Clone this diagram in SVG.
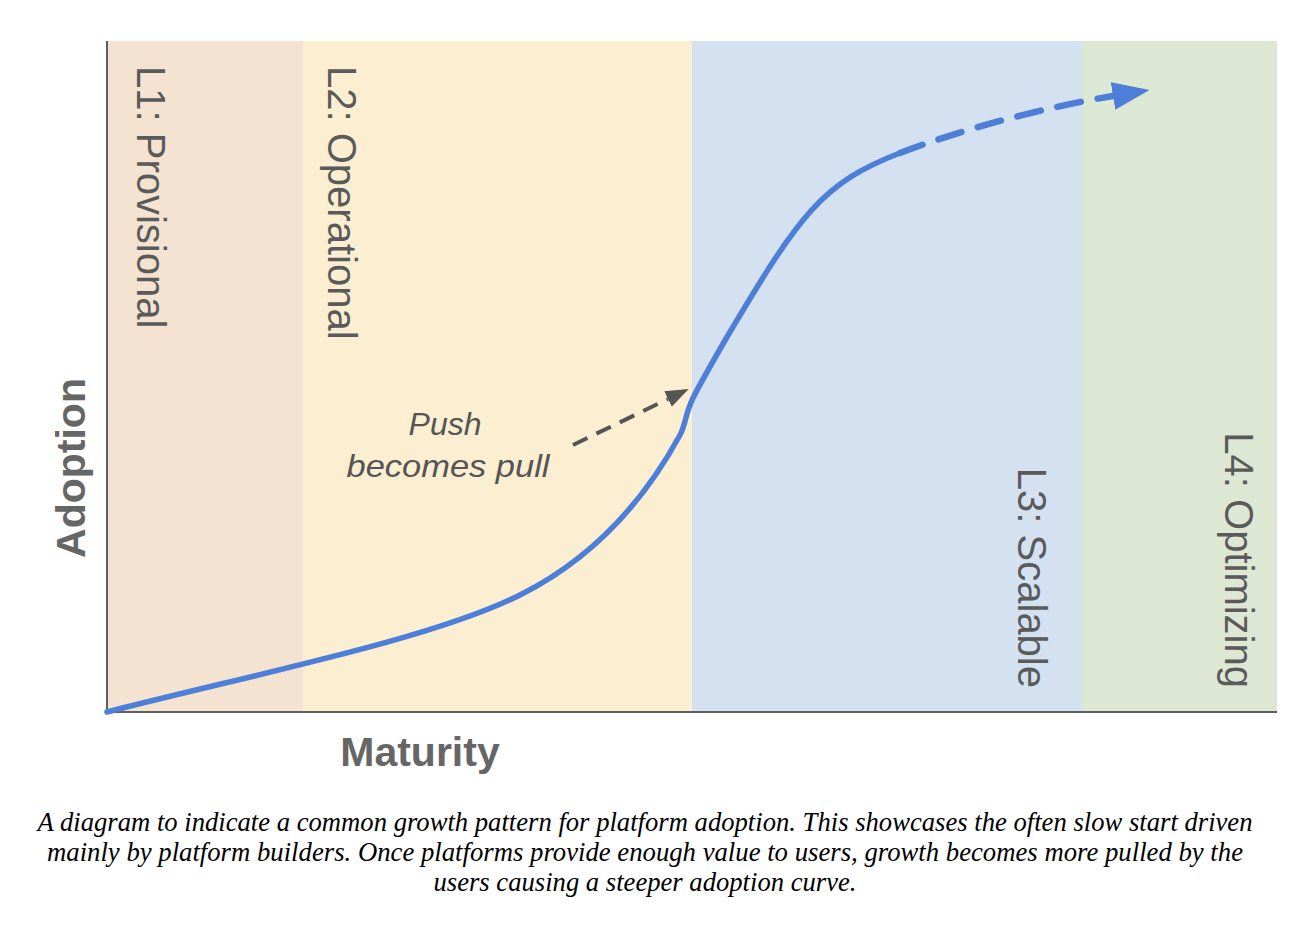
<svg xmlns="http://www.w3.org/2000/svg" width="1310" height="934" viewBox="0 0 1310 934">
  <style>
    .band-label { font-family: "Liberation Sans", Arial, sans-serif; font-size: 40px; fill: #5a5a5a; }
    .axis-label { font-family: "Liberation Sans", Arial, sans-serif; font-size: 41px; font-weight: bold; fill: #666666; }
    .note { font-family: "Liberation Sans", Arial, sans-serif; font-size: 32px; font-style: italic; fill: #555555; }
    .caption { font-family: "Liberation Serif", "Times New Roman", serif; font-size: 26.5px; font-style: italic; fill: #000000; }
    .axis { stroke: #5e5e5e; stroke-width: 2; fill: none; }
    .curve { stroke: #4d7fd8; fill: none; stroke-linecap: round; }
  </style>
  <defs>
    <marker id="blueHead" markerUnits="userSpaceOnUse" markerWidth="40" markerHeight="30" refX="0" refY="14" orient="auto">
      <path d="M0,0 L37,14 L0,28 Z" fill="#4d7fd8"/>
    </marker>
    <marker id="greyHead" markerUnits="userSpaceOnUse" markerWidth="26" markerHeight="20" refX="0" refY="8.5" orient="auto">
      <path d="M0,0 L23,8.5 L0,17 Z" fill="#555555"/>
    </marker>
  </defs>
  <rect x="0" y="0" width="1310" height="934" fill="#ffffff"/>

  <g id="band-L1">
    <rect x="107" y="41" width="196" height="671" fill="#f4e3d0"/>
    <text class="band-label" transform="translate(137,66) rotate(90)">L1: Provisional</text>
  </g>
  <g id="band-L2">
    <rect x="303" y="41" width="389" height="671" fill="#fcefd1"/>
    <text class="band-label" transform="translate(328,66) rotate(90)">L2: Operational</text>
  </g>
  <g id="band-L3">
    <rect x="692" y="41" width="390" height="671" fill="#d4e1f1"/>
    <text class="band-label" text-anchor="end" transform="translate(1018,688) rotate(90)">L3: Scalable</text>
  </g>
  <g id="band-L4">
    <rect x="1082" y="41" width="195" height="671" fill="#dde8d4"/>
    <text class="band-label" text-anchor="end" transform="translate(1225,688) rotate(90)">L4: Optimizing</text>
  </g>

  <g id="axes">
    <line class="axis" x1="107" y1="41" x2="107" y2="713"/>
    <line class="axis" x1="106" y1="712" x2="1277" y2="712"/>
    <text class="axis-label" text-anchor="middle" transform="translate(85,468) rotate(-90)">Adoption</text>
    <text class="axis-label" x="420" y="766" text-anchor="middle">Maturity</text>
  </g>

  <g id="push-note">
    <text class="note" x="445" y="435" text-anchor="middle">Push</text>
    <text class="note" x="448" y="477" text-anchor="middle" textLength="203" lengthAdjust="spacingAndGlyphs">becomes pull</text>
  </g>

  <g id="connectors">
    <path id="growth-curve" class="curve" stroke-width="5.5" d="M107,712 C250,675 430,640 520,595 C600,555 650,490 680,435 C686,424 685,414 693,398 C701,382 716,356 727,337 C800,214 822,183 900,153"/>
    <path id="growth-projection" class="curve" stroke-width="6.5" stroke-linecap="butt" stroke-dasharray="24 17" d="M900,153 C960,130 1045,107 1113,96" marker-end="url(#blueHead)"/>
    <path id="push-arrow" d="M573,445 L668,399" stroke="#555555" stroke-width="4" stroke-dasharray="16 10" fill="none" marker-end="url(#greyHead)"/>
  </g>

  <g id="caption">
    <text class="caption" x="645" y="831" text-anchor="middle" textLength="1215" lengthAdjust="spacingAndGlyphs">A diagram to indicate a common growth pattern for platform adoption. This showcases the often slow start driven</text>
    <text class="caption" x="645" y="861" text-anchor="middle" textLength="1196" lengthAdjust="spacingAndGlyphs">mainly by platform builders. Once platforms provide enough value to users, growth becomes more pulled by the</text>
    <text class="caption" x="645" y="891" text-anchor="middle" textLength="423" lengthAdjust="spacingAndGlyphs">users causing a steeper adoption curve.</text>
  </g>
</svg>
